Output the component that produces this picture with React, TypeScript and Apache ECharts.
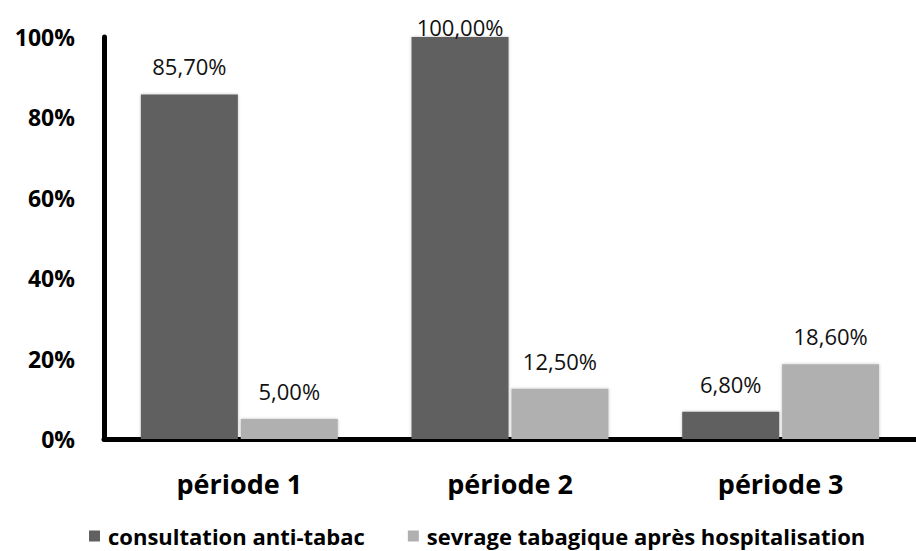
import React, { useEffect, useRef } from "react";
import * as echarts from "echarts";

const categories = ["période 1", "période 2", "période 3"];
const seriesNames = ["consultation anti-tabac", "sevrage tabagique après hospitalisation"];
const consultation = [85.7, 100.0, 6.8];
const sevrage = [5.0, 12.5, 18.6];
const yTicks = [0, 20, 40, 60, 80, 100];

const FONT = "'Open Sans', sans-serif";

const fmt = (v: number) => v.toFixed(2).replace(".", ",") + "%";

export default function App() {
  const ref = useRef<HTMLDivElement>(null);
  useEffect(() => {
    if (!ref.current) return;
    const chart = echarts.init(ref.current, null, { renderer: "svg" });
    const labelBase = {
      show: true,
      position: "top" as const,
      distance: 17,
      fontFamily: FONT,
      fontSize: 22,
      color: "#111",
      formatter: (p: any) => fmt(p.value),
    };
    const mk = (vals: number[]) =>
      vals.map((v) => (v >= 99.9 ? { value: v, label: { distance: -1 } } : { value: v }));
    chart.setOption({
      animation: false,
      backgroundColor: "#fff",
      grid: { left: 104, top: 37, width: 819, bottom: 112, containLabel: false },
      legend: {
        left: 89,
        top: 524,
        padding: 0,
        icon: "rect",
        itemWidth: 11,
        itemHeight: 11,
        itemGap: 43,
        textStyle: {
          fontFamily: FONT,
          fontSize: 22,
          lineHeight: 24,
          fontWeight: "bold",
          color: "#000",
          padding: [0, 0, 0, 3],
        },
        data: seriesNames,
      },
      xAxis: {
        type: "category",
        data: categories,
        axisLine: { lineStyle: { color: "#000", width: 5 } },
        axisTick: { show: false },
        axisLabel: { margin: 31, fontFamily: FONT, fontSize: 27, fontWeight: "bold", color: "#000" },
      },
      yAxis: {
        type: "value",
        min: yTicks[0],
        max: yTicks[yTicks.length - 1],
        interval: yTicks[1] - yTicks[0],
        axisLine: { show: true, lineStyle: { color: "#000", width: 5 } },
        axisTick: { show: false },
        splitLine: { show: false },
        axisLabel: {
          margin: 29,
          formatter: "{value}%",
          fontFamily: FONT,
          fontSize: 23,
          fontWeight: "bold",
          color: "#000",
        },
      },
      series: [
        {
          name: seriesNames[0],
          type: "bar",
          data: mk(consultation),
          barWidth: 97,
          barGap: "3%",
          itemStyle: { color: "#606060", shadowBlur: 3, shadowColor: "rgba(0,0,0,0.25)" },
          label: labelBase,
        },
        {
          name: seriesNames[1],
          type: "bar",
          data: mk(sevrage),
          barWidth: 97,
          barGap: "3%",
          itemStyle: { color: "#b0b0b0", shadowBlur: 3, shadowColor: "rgba(0,0,0,0.25)" },
          label: labelBase,
        },
      ],
    });
    return () => chart.dispose();
  }, []);
  return (
    <div
      ref={ref}
      style={{ position: "fixed", left: 0, top: 0, width: 916, height: 551, background: "#fff" }}
    />
  );
}
